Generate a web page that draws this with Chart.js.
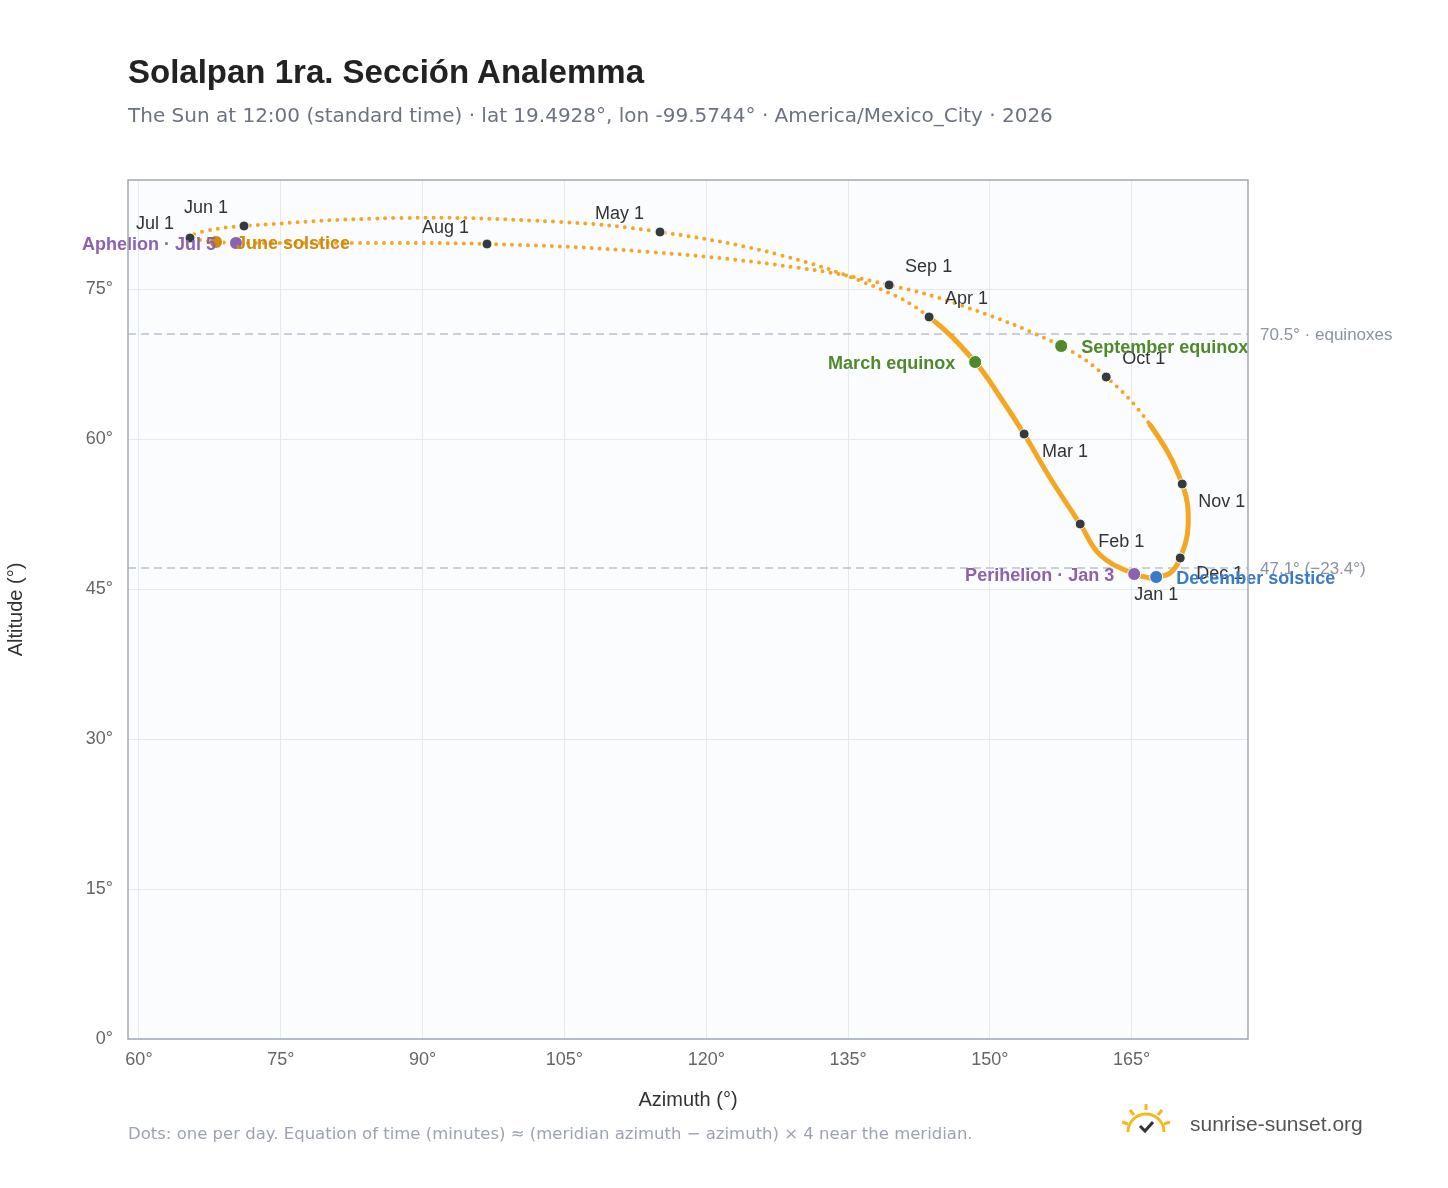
<!DOCTYPE html>
<html><head><meta charset="utf-8">
<script src="https://cdn.jsdelivr.net/npm/chart.js@4/dist/chart.umd.min.js"></script>
<style>
body{margin:0;background:#fff;font-family:"Liberation Sans",Arial,sans-serif;}
#wrap{position:relative;width:1448px;height:1188px;}
canvas{position:absolute;left:0;top:0;}
.t{position:absolute;left:128px;top:53px;font-size:33px;font-weight:bold;color:#222;}
.s{position:absolute;left:128px;top:103px;font-size:20px;font-family:"DejaVu Sans";color:#6b7280;}
.f{position:absolute;left:128px;top:1124px;font-size:16.5px;font-family:"DejaVu Sans";color:#9ca3af;}
.b{position:absolute;left:1190px;top:1112px;font-size:21px;color:#555;}
</style></head><body>
<div id="wrap">
<canvas id="c" width="1448" height="1188"></canvas>
<div class="t">Solalpan 1ra. Sección Analemma</div>
<div class="s">The Sun at 12:00 (standard time) · lat 19.4928°, lon -99.5744° · America/Mexico_City · 2026</div>
<div class="f">Dots: one per day. Equation of time (minutes) ≈ (meridian azimuth − azimuth) × 4 near the meridian.</div>
<svg style="position:absolute;left:1120px;top:1102px" width="52" height="36" viewBox="0 0 52 36">
<path d="M8 30 A18 18 0 0 1 44 30" fill="none" stroke="#f5b820" stroke-width="3"/>
<g stroke="#f5b820" stroke-width="3"><line x1="26" y1="2" x2="26" y2="8"/><line x1="10" y1="8" x2="14" y2="13"/><line x1="42" y1="8" x2="38" y2="13"/><line x1="2" y1="20" x2="8" y2="22"/><line x1="50" y1="20" x2="44" y2="22"/></g>
<path d="M20 24 l5 5 l8 -9" fill="none" stroke="#333" stroke-width="3"/></svg>
<div class="b">sunrise-sunset.org</div>
</div>
<script>
// path of the sun through the year (azimuth, altitude)
const pathAz  = [166.95,165.26,161.66,159.55,156.37,153.62,151.08,148.44,143.57,138.39,127.81,115.11,104.54,87.61,71.11,66.98,65.40,66.45,68.15,70.26,80.2,96.81,114.06,129.93,139.34,146.85,157.54,162.30,166.95,170.34,170.97,170.13,169.07,167.59,166.95];
const pathAlt = [46.1,46.5,48.4,51.5,56.1,60.5,64.2,67.7,72.2,75.0,78.4,80.7,81.7,82.1,81.3,80.8,80.2,79.9,79.7,79.6,79.6,79.5,78.7,77.1,75.4,73.4,69.3,66.2,61.4,55.5,51.4,48.1,46.6,46.2,46.1];
// first-of-month markers
const monthNames = ['Jan 1','Feb 1','Mar 1','Apr 1','May 1','Jun 1','Jul 1','Aug 1','Sep 1','Oct 1','Nov 1','Dec 1'];
const monthAz  = [167.6,159.55,153.62,143.57,115.11,71.11,65.4,96.81,139.34,162.30,170.34,170.13];
const monthAlt = [46.2,51.5,60.5,72.2,80.7,81.3,80.1,79.5,75.4,66.2,55.5,48.1];
const monthOff = [[0,18],[18,18],[18,18],[16,-18],[-16,-18],[-16,-18],[-16,-14],[-18,-16],[16,-18],[16,-18],[16,18],[16,16]];
// special points
const specNames = ['March equinox','September equinox','June solstice','December solstice','Perihelion · Jan 3','Aphelion · Jul 5'];
const specAz  = [148.44,157.54,68.15,167.59,165.26,70.26];
const specAlt = [67.7,69.3,79.7,46.2,46.5,79.6];
const specCol = ['#4f8a2a','#4f8a2a','#d18a0c','#3a7bc8','#8c62b0','#8c62b0'];
const specAlign = ['right','left','left','left','right','right'];
const refLines = [{v:70.5,t:'70.5° · equinoxes'},{v:47.1,t:'47.1° (−23.4°)'}];
const tickVals = [0,15,30,45,60,75,90,105,120,135,150,165];

const extras = {
  id:'extras',
  beforeDatasetsDraw(ch){
    const {ctx,chartArea:a,scales:{y}}=ch;
    ctx.save();
    ctx.setLineDash([8,5]);ctx.strokeStyle='#b8c2ce';ctx.lineWidth=1.5;
    refLines.forEach(r=>{const py=y.getPixelForValue(r.v);ctx.beginPath();ctx.moveTo(a.left,py);ctx.lineTo(a.right,py);ctx.stroke();
      ctx.fillStyle='#8a939e';ctx.font='17px "Liberation Sans"';ctx.textBaseline='middle';ctx.fillText(r.t,a.right+12,py+1);});
    ctx.restore();
  },
  beforeDraw(ch){
    const {ctx,chartArea:a}=ch;
    ctx.save();ctx.fillStyle='#fafcfe';ctx.fillRect(a.left,a.top,a.right-a.left,a.bottom-a.top);ctx.restore();
  },
  afterDatasetsDraw(ch){
    const {ctx,chartArea:a,scales:{x,y}}=ch;
    ctx.save();
    ctx.textBaseline='middle';
    ctx.font='18px "Liberation Sans"';ctx.fillStyle='#333';
    monthNames.forEach((n,i)=>{const px=x.getPixelForValue(monthAz[i]),py=y.getPixelForValue(monthAlt[i]);
      ctx.textAlign=monthOff[i][0]<0?'right':'left';if(i===0)ctx.textAlign='center';
      ctx.fillText(n,px+monthOff[i][0],py+monthOff[i][1]);});
    ctx.font='bold 18px "Liberation Sans"';
    specNames.forEach((n,i)=>{const px=x.getPixelForValue(specAz[i]),py=y.getPixelForValue(specAlt[i]);
      ctx.fillStyle=specCol[i];ctx.textAlign=specAlign[i];ctx.fillText(n,px+(specAlign[i]==='left'?20:-20),py+2);});
    ctx.strokeStyle='#a0aab8';ctx.lineWidth=1.5;ctx.strokeRect(a.left,a.top,a.right-a.left,a.bottom-a.top);
    ctx.restore();
  }
};
const winter = i => i<=7 || i>=28;
const setTicks = (s,lo) => { s.ticks = tickVals.filter(v=>v>=lo && v<=s.max).map(v=>({value:v})); };
new Chart(document.getElementById('c'),{
  type:'scatter',
  data:{datasets:[
    {order:3,data:pathAz.map((v,i)=>({x:v,y:pathAlt[i]})),showLine:true,tension:0.4,pointRadius:0,borderColor:'#f5a623',borderWidth:4,
     borderCapStyle:'round',borderDash:[0,8],
     segment:{borderDash:c=>winter(c.p0DataIndex)?[]:[0,8],borderWidth:c=>winter(c.p0DataIndex)?5:4}},
    {order:2,data:monthAz.map((v,i)=>({x:v,y:monthAlt[i]})),pointRadius:5,backgroundColor:'#343a40',borderColor:'#fff',borderWidth:1},
    {order:1,data:specAz.map((v,i)=>({x:v,y:specAlt[i]})),pointRadius:6.5,backgroundColor:specCol,borderColor:'#fff',borderWidth:1}
  ]},
  options:{
    responsive:false,animation:false,
    layout:{padding:{top:180,right:200,bottom:72,left:0}},
    plugins:{legend:{display:false},tooltip:{enabled:false}},
    scales:{
      x:{min:58.84,max:177.3,afterBuildTicks:s=>setTicks(s,60),
         ticks:{color:'#666',font:{size:18},padding:10,callback:v=>v+'°'},
         grid:{color:'#e5e9ef',drawTicks:false},border:{display:false},
         title:{display:true,text:'Azimuth (°)',color:'#333',font:{size:20},padding:{top:8}},afterFit:s=>{s.height=77;}},
      y:{min:0,max:85.9,afterBuildTicks:s=>setTicks(s,0),
         ticks:{color:'#666',font:{size:18},padding:15,callback:v=>v+'°'},
         grid:{color:'#e5e9ef',drawTicks:false},border:{display:false},
         title:{display:true,text:'Altitude (°)',color:'#333',font:{size:20},padding:{bottom:0}},afterFit:s=>{s.width=128;}}
    }
  },
  plugins:[extras]
});
</script></body></html>
